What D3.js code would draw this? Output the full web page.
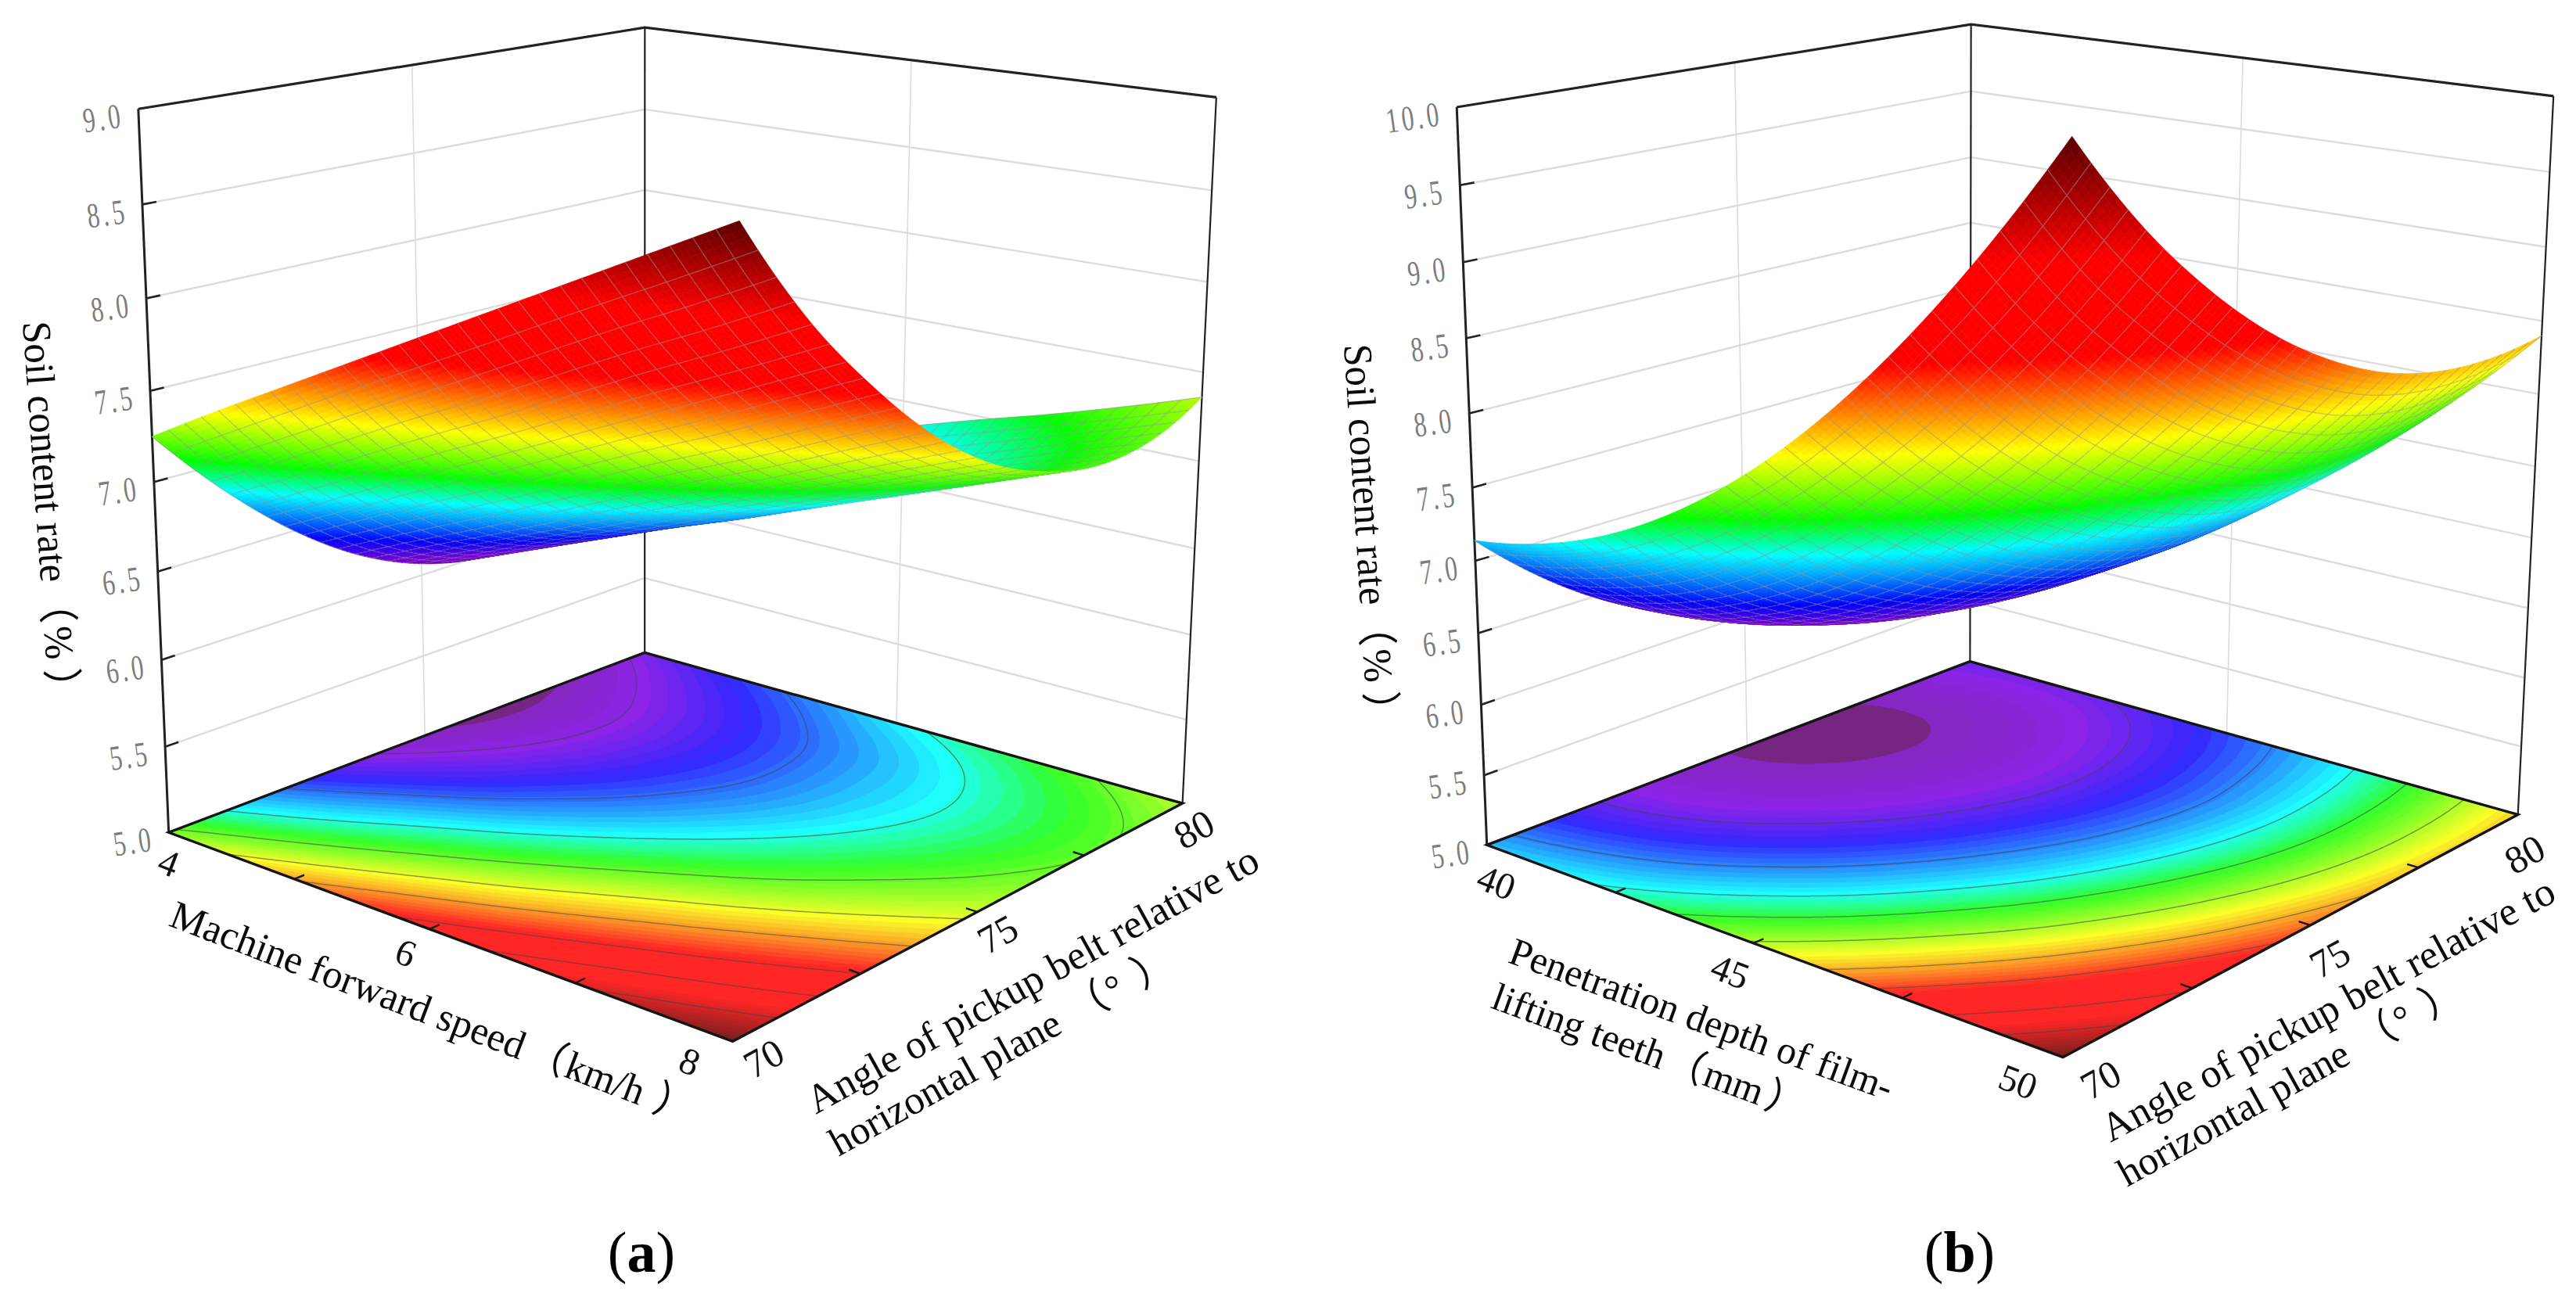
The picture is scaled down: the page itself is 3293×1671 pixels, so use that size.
<!DOCTYPE html>
<html>
<head>
<meta charset="utf-8">
<script src="https://cdn.jsdelivr.net/npm/d3@7"></script>
<style>
  html, body { margin: 0; padding: 0; background: #fff; }
  svg { display: block; }
  text { font-family: "Liberation Serif", "Noto Sans CJK SC", serif; text-spacing-trim: space-all; }
</style>
</head>
<body>
<svg id="chart" width="3293" height="1671"></svg>
<script>
// Soil content rate response surfaces
// rows go with the angle (70 -> 80), columns with the other factor (low -> high)
var surfaceA = [
  [7.25, 7.47, 7.68, 7.89, 8.10, 8.31, 8.52, 8.73, 8.94],
  [6.84, 7.03, 7.23, 7.43, 7.62, 7.82, 8.02, 8.21, 8.41],
  [6.50, 6.69, 6.88, 7.06, 7.25, 7.44, 7.62, 7.81, 8.00],
  [6.24, 6.42, 6.59, 6.77, 6.95, 7.13, 7.30, 7.48, 7.66],
  [6.07, 6.24, 6.41, 6.57, 6.74, 6.91, 7.08, 7.25, 7.41],
  [5.99, 6.15, 6.31, 6.47, 6.62, 6.78, 6.94, 7.10, 7.26],
  [6.01, 6.15, 6.30, 6.45, 6.60, 6.75, 6.89, 7.04, 7.19],
  [6.09, 6.24, 6.38, 6.52, 6.66, 6.80, 6.94, 7.08, 7.22],
  [6.26, 6.40, 6.54, 6.68, 6.84, 6.97, 7.09, 7.22, 7.36]
];
var surfaceB = [
  [7.14, 7.24, 7.42, 7.69, 8.05, 8.50, 9.04, 9.67, 10.39],
  [6.72, 6.81, 6.98, 7.25, 7.59, 8.02, 8.53, 9.12, 9.81],
  [6.40, 6.47, 6.64, 6.89, 7.22, 7.63, 8.11, 8.69, 9.35],
  [6.18, 6.23, 6.39, 6.63, 6.94, 7.32, 7.79, 8.34, 8.98],
  [6.05, 6.09, 6.22, 6.45, 6.75, 7.10, 7.55, 8.08, 8.70],
  [6.02, 6.04, 6.15, 6.35, 6.63, 6.97, 7.39, 7.90, 8.50],
  [6.09, 6.08, 6.17, 6.35, 6.61, 6.92, 7.32, 7.81, 8.39],
  [6.25, 6.22, 6.28, 6.44, 6.67, 6.97, 7.34, 7.81, 8.36],
  [6.51, 6.45, 6.48, 6.60, 6.80, 7.07, 7.42, 7.87, 8.40]
];

var angleTicks = [70, 75, 80];
var speedTicks = [4, 6, 8];
var depthTicks = [40, 45, 50];
var rateTicksA = [5, 5.5, 6, 6.5, 7, 7.5, 8, 8.5, 9];
var rateTicksB = [5, 5.5, 6, 6.5, 7, 7.5, 8, 8.5, 9, 9.5, 10];
var levelsA = [6.2, 6.58, 6.9, 7.2, 7.46, 7.7, 8.0, 8.27, 8.57];
var levelsB = [6.5, 6.97, 7.35, 7.65, 8.02, 8.49, 8.85, 9.4, 9.85];

// colour ramps, position along the value range -> colour
var rampStops = [0, 0.06, 0.15, 0.29, 0.37, 0.5, 0.66, 0.82, 1];
var surfaceColors = ['#6400b4', '#7800d2', '#0000ff', '#00ffff', '#00ff00', '#ffff00', '#ff0000', '#ff0000', '#5a0000'];
var floorStops = [0, 0.012, 0.07, 0.15, 0.29, 0.37, 0.5, 0.66, 0.82, 1];
var floorColors = ['#762682', '#8526c4', '#8c23e6', '#3228ff', '#1effff', '#32ff28', '#faff28', '#ff2626', '#ff2626', '#6e1e1e'];

var MESH = 30;      // mesh lines per side
var SUB = 4;        // colour cells per mesh cell
var FLOOR_N = 161;
var FLOOR_BANDS = 72;

var svg = d3.select('#chart');

// corners of the box in the picture, used to fit the perspective camera
function fitCamera(c) {
  var world = [[0,0,0],[1,0,0],[1,1,0],[0,1,0],[0,0,1],[1,1,1],[0,1,1]];
  var screen = [c.left, c.front, c.right, c.back, c.leftTop, c.rightTop, c.backTop];
  var A = [], b = [];
  world.forEach(function(w, k) {
    var X = screen[k][0] / 1000, Y = screen[k][1] / 1000;
    A.push([w[0],w[1],w[2],1, 0,0,0,0, -X*w[0],-X*w[1],-X*w[2]]); b.push(X);
    A.push([0,0,0,0, w[0],w[1],w[2],1, -Y*w[0],-Y*w[1],-Y*w[2]]); b.push(Y);
  });
  var n = 11, M = [];
  for (var i = 0; i < n; i++) {
    M.push(new Array(n + 1).fill(0));
    for (var j = 0; j < n; j++) M[i][j] = d3.sum(A, function(r) { return r[i] * r[j]; });
    M[i][n] = d3.sum(A, function(r, k) { return r[i] * b[k]; });
    M[i][i] += 1e-9;
  }
  for (i = 0; i < n; i++) {
    var piv = i;
    for (j = i + 1; j < n; j++) if (Math.abs(M[j][i]) > Math.abs(M[piv][i])) piv = j;
    var t = M[i]; M[i] = M[piv]; M[piv] = t;
    for (j = 0; j < n; j++) {
      if (j === i) continue;
      var f = M[j][i] / M[i][i];
      for (var q = i; q <= n; q++) M[j][q] -= f * M[i][q];
    }
  }
  var p = M.map(function(r, i) { return r[n] / r[i]; });
  return function(u, v, w) {
    var d = p[8]*u + p[9]*v + p[10]*w + 1;
    return [1000 * (p[0]*u + p[1]*v + p[2]*w + p[3]) / d,
            1000 * (p[4]*u + p[5]*v + p[6]*w + p[7]) / d];
  };
}

// smooth reading between the grid values
function at(vals, i) {
  if (i < 0) return 3*vals[0] - 3*vals[1] + vals[2];
  var L = vals.length - 1;
  if (i > L) return 3*vals[L] - 3*vals[L-1] + vals[L-2];
  return vals[i];
}
function spline(vals, s) {
  var i = Math.min(Math.floor(s), vals.length - 2), t = s - i;
  var a = at(vals, i-1), b = at(vals, i), c = at(vals, i+1), d = at(vals, i+2);
  return b + 0.5*t*(c - a + t*(2*a - 5*b + 4*c - d + t*(3*(b - c) + d - a)));
}
function heightAt(grid, u, v) {
  var across = grid.map(function(r) { return spline(r, u * (r.length - 1)); });
  return spline(across, v * (grid.length - 1));
}

var line = d3.line();

function drawPanel(g, cfg) {
  var proj = fitCamera(cfg.corners);
  var grid = cfg.grid;
  var sz = d3.scaleLinear().domain(d3.extent(cfg.zTicks)).range([0, 1]);
  var lo = d3.min(grid, function(r) { return d3.min(r); });
  var hi = d3.max(grid, function(r) { return d3.max(r); });
  var sT = d3.scaleLinear().domain([lo, hi]).range([0, 1]);
  var surfaceColor = d3.scaleLinear().domain(rampStops).range(surfaceColors);
  var floorColor = d3.scaleLinear().domain(floorStops).range(floorColors);

  // back walls
  var walls = g.append('g').attr('fill', 'none');
  cfg.zTicks.slice(1, -1).forEach(function(z) {
    var w = sz(z);
    walls.append('path').attr('stroke', '#dcdcdc').attr('stroke-width', 2.4)
      .attr('d', line([proj(0, 0, w), proj(0, 1, w), proj(1, 1, w)]));
  });
  walls.append('path').attr('stroke', '#dcdcdc').attr('stroke-width', 1.6)
    .attr('d', line([proj(0, 0.5, 0), proj(0, 0.5, 1)]));
  walls.append('path').attr('stroke', '#dcdcdc').attr('stroke-width', 1.6)
    .attr('d', line([proj(0.5, 1, 0), proj(0.5, 1, 1)]));
  walls.append('path').attr('stroke', '#222').attr('stroke-width', 3.2)
    .attr('d', line([proj(0, 0, 1), proj(0, 1, 1), proj(1, 1, 1)]));
  [[0, 0, 3], [0, 1, 2.2], [1, 1, 2.2]].forEach(function(e) {
    walls.append('path').attr('stroke', '#222').attr('stroke-width', e[2])
      .attr('d', line([proj(e[0], e[1], 0), proj(e[0], e[1], 1)]));
  });
  cfg.zTicks.slice(1, -1).forEach(function(z) {
    var w = sz(z);
    walls.append('path').attr('stroke', '#222').attr('stroke-width', 2.6)
      .attr('d', line([proj(0, 0, w), proj(0, 0.024, w)]));
  });

  // floor map: filled bands and contour lines
  var values = [];
  for (var j = 0; j < FLOOR_N; j++) {
    for (var i = 0; i < FLOOR_N; i++) {
      values.push(heightAt(grid, i / (FLOOR_N - 1), j / (FLOOR_N - 1)));
    }
  }
  var floorPath = d3.geoPath(d3.geoTransform({
    point: function(x, y) {
      var u = Math.max(0, Math.min(1, (x - 0.5) / (FLOOR_N - 1)));
      var v = Math.max(0, Math.min(1, (y - 0.5) / (FLOOR_N - 1)));
      var q = proj(u, v, 0);
      this.stream.point(q[0], q[1]);
    }
  }));
  var bands = d3.range(FLOOR_BANDS).map(function(k) { return lo + (hi - lo) * k / FLOOR_BANDS; });
  var contours = d3.contours().size([FLOOR_N, FLOOR_N]);
  g.append('path').attr('fill', floorColor(0))
    .attr('d', line([proj(0,0,0), proj(1,0,0), proj(1,1,0), proj(0,1,0)]) + 'Z');
  g.append('g').selectAll('path').data(contours.thresholds(bands)(values)).join('path')
    .attr('d', floorPath)
    .attr('fill', function(d) { return floorColor(sT(d.value)); });
  g.append('g').attr('fill', 'none').attr('stroke', '#444').attr('stroke-opacity', 0.55).attr('stroke-width', 1.5)
    .selectAll('path').data(contours.thresholds(cfg.levels)(values)).join('path')
    .attr('d', floorPath);

  // floor edges and ticks
  var edges = g.append('g').attr('fill', 'none').attr('stroke', '#151515');
  edges.append('path').attr('stroke-width', 3.4).attr('stroke-linejoin', 'miter')
    .attr('d', line([proj(0,1,0), proj(0,0,0), proj(1,0,0), proj(1,1,0), proj(0,1,0)]));
  [0.25, 0.5, 0.75].forEach(function(t) {
    edges.append('path').attr('stroke-width', 2.4).attr('d', line([proj(t, 0, 0), proj(t, 0.018, 0)]));
    edges.append('path').attr('stroke-width', 2.4).attr('d', line([proj(1, t, 0), proj(0.982, t, 0)]));
  });

  // surface, from the back corner to the front so nearer cells cover farther ones
  var N = MESH * SUB;
  var points = [];
  for (var b = 0; b <= N; b++) {
    points.push([]);
    for (var a = 0; a <= N; a++) {
      points[b].push(proj(a / N, b / N, sz(heightAt(grid, a / N, b / N))));
    }
  }
  var items = [];
  for (a = 0; a < N; a++) {
    for (b = N - 1; b >= 0; b--) {
      var zc = heightAt(grid, (a + 0.5) / N, (b + 0.5) / N);
      items.push({
        d: line([points[b][a], points[b][a+1], points[b+1][a+1], points[b+1][a]]) + 'Z',
        fill: surfaceColor(sT(zc))
      });
      if (a % SUB === 0) items.push({ d: line([points[b][a], points[b+1][a]]) });
      if ((b + 1) % SUB === 0) items.push({ d: line([points[b+1][a], points[b+1][a+1]]) });
    }
  }
  g.append('g').attr('stroke-linejoin', 'round').selectAll('path').data(items).join('path')
    .attr('d', function(d) { return d.d; })
    .attr('fill', function(d) { return d.fill || 'none'; })
    .attr('stroke', function(d) { return d.fill || 'rgb(150,150,150)'; })
    .attr('stroke-opacity', function(d) { return d.fill ? 1 : 0.5; })
    .attr('stroke-width', function(d) { return d.fill ? 0.7 : 1.4; });

  // rate labels beside the left edge
  g.append('g').selectAll('text').data(cfg.zTicks).join('text')
    .attr('transform', function(z) {
      var q = proj(0, 0, sz(z));
      return 'translate(' + (q[0] - 17) + ',' + (q[1] + 23) + ') rotate(-8) scale(0.7,1)';
    })
    .attr('text-anchor', 'end').attr('font-size', 45).attr('fill', '#7d7d7d').attr('letter-spacing', 6)
    .text(function(z) { return d3.format('.1f')(z); });

  // floor tick labels
  g.append('g').selectAll('text').data(cfg.xLabels).join('text')
    .attr('transform', function(d) { return 'translate(' + d.at + ') rotate(21)'; })
    .attr('text-anchor', 'middle').attr('dominant-baseline', 'middle').attr('font-size', 48).attr('fill', '#111')
    .text(function(d) { return d.label; });
  g.append('g').selectAll('text').data(cfg.yLabels).join('text')
    .attr('transform', function(d) { return 'translate(' + d.at + ') rotate(-29)'; })
    .attr('text-anchor', 'middle').attr('dominant-baseline', 'middle').attr('font-size', 50).attr('fill', '#111')
    .text(function(d) { return d.label; });

  // axis titles, parts carry the extra gap around the brackets
  g.append('g').selectAll('text').data(cfg.titles).join('text')
    .attr('transform', function(d) { return 'translate(' + d.at + ') rotate(' + d.rot + ') scale(' + d.sx + ',1)'; })
    .attr('font-size', function(d) { return d.size; }).attr('fill', '#0a0a0a')
    .selectAll('tspan').data(function(d) { return d.parts; }).join('tspan')
    .attr('dx', function(p) { return p[1]; })
    .text(function(p) { return p[0]; });

  g.append('text').attr('x', cfg.caption[0]).attr('y', cfg.caption[1])
    .attr('text-anchor', 'middle').attr('font-size', 74).attr('fill', '#000')
    .selectAll('tspan').data(cfg.captionParts).join('tspan')
    .attr('font-weight', function(d) { return d === '(' || d === ')' ? 'normal' : 'bold'; })
    .text(function(d) { return d; });
}

drawPanel(svg.append('g'), {
  grid: surfaceA,
  zTicks: rateTicksA,
  levels: levelsA,
  corners: { left: [216, 1064], front: [936, 1332], right: [1512, 1026], back: [824, 835],
             leftTop: [177, 139], rightTop: [1555, 125], backTop: [824, 35] },
  xLabels: [{ label: speedTicks[0], at: [214, 1108] }, { label: speedTicks[1], at: [517, 1223] }, { label: speedTicks[2], at: [880, 1362] }],
  yLabels: [{ label: angleTicks[0], at: [979, 1358] }, { label: angleTicks[1], at: [1278, 1199] }, { label: angleTicks[2], at: [1529, 1065] }],
  titles: [
    { parts: [['Soil content rate', 0], ['（', 2], ['%', 4], ['）', 12]], at: [29, 412], rot: 86, sx: 0.98, size: 52 },
    { parts: [['Machine forward speed', 0], ['（', 6], ['km/h', 2], ['）', 16]], at: [214, 1183], rot: 20.9, sx: 1, size: 51 },
    { parts: [['Angle of pickup belt relative to', 0]], at: [1043, 1425], rot: -28.9, sx: 1, size: 52 },
    { parts: [['horizontal plane', 0], ['（', 18], ['°', 4], ['）', 20]], at: [1072, 1479], rot: -29, sx: 1, size: 51 }
  ],
  caption: [820, 1626],
  captionParts: ['(', 'a', ')']
});

drawPanel(svg.append('g'), {
  grid: surfaceB,
  zTicks: rateTicksB,
  levels: levelsB,
  corners: { left: [1901, 1080], front: [2637, 1352], right: [3219, 1041], back: [2518, 846],
             leftTop: [1862, 137], rightTop: [3264, 123], backTop: [2520, 31] },
  xLabels: [{ label: depthTicks[0], at: [1911, 1133] }, { label: depthTicks[1], at: [2210, 1247] }, { label: depthTicks[2], at: [2578, 1388] }],
  yLabels: [{ label: angleTicks[0], at: [2688, 1385] }, { label: angleTicks[1], at: [2981, 1230] }, { label: angleTicks[2], at: [3230, 1097] }],
  titles: [
    { parts: [['Soil content rate', 0], ['（', 2], ['%', 4], ['）', 12]], at: [1718, 441], rot: 86.4, sx: 0.98, size: 52 },
    { parts: [['Penetration depth of film-', 0]], at: [1926, 1230], rot: 20, sx: 1, size: 50 },
    { parts: [['lifting teeth', 0], ['（', 4], ['mm', 2], ['）', 6]], at: [1904, 1288], rot: 20, sx: 1, size: 50 },
    { parts: [['Angle of pickup belt relative to', 0]], at: [2698, 1461], rot: -28.5, sx: 1, size: 52 },
    { parts: [['horizontal plane', 0], ['（', 18], ['°', 4], ['）', 20]], at: [2719, 1518], rot: -29, sx: 1, size: 51 }
  ],
  caption: [2505, 1626],
  captionParts: ['(', 'b', ')']
});
</script>
</body>
</html>
